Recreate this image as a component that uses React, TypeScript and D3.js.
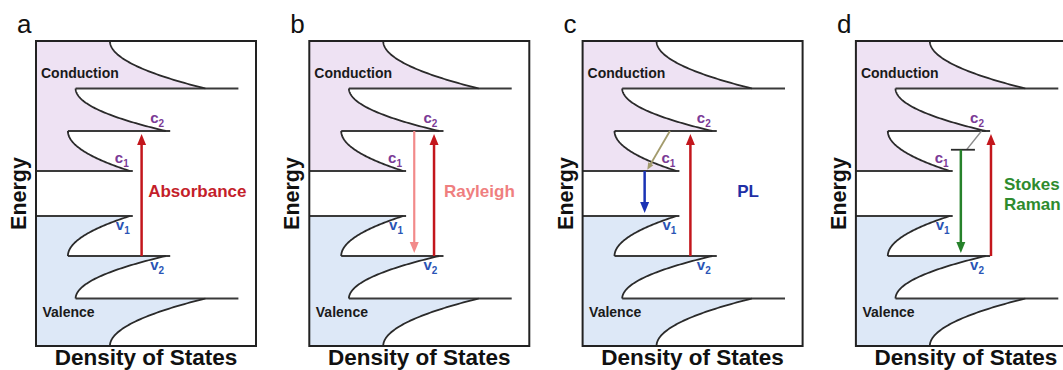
import React from 'react';
import * as d3 from 'd3';

// ---------- data ----------
const panelIds = ['a', 'b', 'c', 'd'];
// subband edge energies above mid-gap (valence mirrored below)
const subbandEdges = [0.45, 1.25, 2.1];
const energyLimit = 3.05;
// density of states at the upper end of each subband curve
const dosAtUpperEdge = [0.145, 0.18, 0.336];
// density of states where each curve meets its band edge
const dosAtBandEdge = [0.427, 0.59, 0.77];
// right end of each level line
const levelLineEnd = [0.44, 0.61, 0.92];

// transitions
const arrowPanel = [0, 1, 1, 2, 2, 3, 3];
const arrowDos = [0.48, 0.567, 0.477, 0.49, 0.282, 0.614, 0.477];
const arrowFrom = [-1.25, -1.25, 1.25, -1.25, 0.45, -1.25, 0.875];
const arrowTo = [1.25, 1.25, -1.25, 1.25, -0.45, 1.25, -1.25];
const arrowColor = ['#c3161c', '#c3161c', '#f28a8a', '#c3161c', '#1b33b5', '#c3161c', '#26822b'];

// relaxation in PL (panel c)
const relaxFrom = [0.397, 1.25];
const relaxTo = [0.294, 0.476];
// virtual state in Raman (panel d)
const virtualLevel = 0.875;
const virtualSpan = [0.432, 0.541];
const virtualLinkFrom = [0.571, 1.25];
const virtualLinkTo = [0.503, 0.875];

const processLabels = [['Absorbance'], ['Rayleigh'], ['PL'], ['Stokes', 'Raman']];
const processColors = ['#c41e2a', '#ef7f7f', '#1f2fa6', '#2e8b2e'];
const processDos = [0.51, 0.612, 0.703, 0.673];

// ---------- layout ----------
const W = 1063, H = 370;
const firstLeft = 36, panelStep = 273.3, boxW = 220;
const boxTop = 41, boxBottom = 346;
const FONT = 'Liberation Sans, Arial, Helvetica, sans-serif';
const condFill = '#eee2f3';
const valFill = '#dde8f7';

const shape = (s: number) => (1 - s) * (1 - s);

function bandCurve(n: number, sign: number): [number, number][] {
  const lo = subbandEdges[n];
  const hi = n + 1 < subbandEdges.length ? subbandEdges[n + 1] : energyLimit;
  const pts: [number, number][] = [];
  const N = 60;
  for (let i = 0; i <= N; i++) {
    const s = 1 - i / N; // from upper edge (s=1) to band edge (s=0)
    const e = lo + s * (hi - lo);
    const dos = dosAtUpperEdge[n] + (dosAtBandEdge[n] - dosAtUpperEdge[n]) * shape(s);
    pts.push([dos, sign * e]);
  }
  return pts;
}

function fillPoints(sign: number): [number, number][] {
  const pts: [number, number][] = [[0, sign * energyLimit]];
  for (let n = subbandEdges.length - 1; n >= 0; n--) {
    pts.push(...bandCurve(n, sign));
  }
  pts.push([0, sign * subbandEdges[0]]);
  return pts;
}

function Arrow({ x1, y1, x2, y2, color, width = 2.5, head = 11, hw = 4.5 }: any) {
  const dx = x2 - x1, dy = y2 - y1;
  const len = Math.hypot(dx, dy);
  const ux = dx / len, uy = dy / len;
  const bx = x2 - ux * head, by = y2 - uy * head;
  const pts = [
    [x2, y2],
    [bx - uy * hw, by + ux * hw],
    [bx + uy * hw, by - ux * hw],
  ];
  return (
    <g>
      <line x1={x1} y1={y1} x2={bx + ux * 1.5} y2={by + uy * 1.5} stroke={color} strokeWidth={width} />
      <polygon points={pts.map((p) => p.join(',')).join(' ')} fill={color} />
    </g>
  );
}

function SubLabel({ x, y, main, sub, color }: any) {
  return (
    <text x={x} y={y} fill={color} fontFamily={FONT} fontWeight="bold" fontSize={15}>
      {main}
      <tspan fontSize={10} dy={4}>{sub}</tspan>
    </text>
  );
}

function Panel({ idx }: { idx: number }) {
  const left = firstLeft + idx * panelStep;
  const x = d3.scaleLinear().domain([0, 1]).range([left, left + boxW]);
  const y = d3.scaleLinear().domain([-energyLimit, energyLimit]).range([boxBottom, boxTop]);
  const line = d3.line<[number, number]>().x((d) => x(d[0])).y((d) => y(d[1]));
  const tipGap = 3;

  const arrows = arrowPanel
    .map((p, i) => ({ p, i }))
    .filter((a) => a.p === idx)
    .map(({ i }) => {
      const up = arrowTo[i] > arrowFrom[i];
      const y1 = y(arrowFrom[i]);
      const y2 = y(arrowTo[i]) + (up ? tipGap : -tipGap);
      return <Arrow key={i} x1={x(arrowDos[i])} y1={y1} x2={x(arrowDos[i])} y2={y2} color={arrowColor[i]} width={arrowColor[i] === '#f28a8a' ? 2.2 : 2.5} />;
    });

  const labelLines = processLabels[idx];
  const labelY0 = labelLines.length === 1 ? 197 : 190;

  return (
    <g>
      {/* fills */}
      <path d={line(fillPoints(1)) + 'Z'} fill={condFill} stroke="none" />
      <path d={line(fillPoints(-1)) + 'Z'} fill={valFill} stroke="none" />
      {/* level lines */}
      {[1, -1].map((sign) =>
        subbandEdges.map((e, n) => (
          <line
            key={`l${sign}${n}`}
            x1={x(n === 0 ? 0 : dosAtUpperEdge[n - 1])}
            x2={x(levelLineEnd[n])}
            y1={y(sign * e)}
            y2={y(sign * e)}
            stroke="#3a3a3a"
            strokeWidth={2}
          />
        ))
      )}
      {/* DOS curves */}
      {[1, -1].map((sign) =>
        subbandEdges.map((_, n) => (
          <path key={`c${sign}${n}`} d={line(bandCurve(n, sign)) || ''} fill="none" stroke="#2a2a2a" strokeWidth={1.8} />
        ))
      )}
      {/* box */}
      <rect x={x(0)} y={boxTop} width={boxW} height={boxBottom - boxTop} fill="none" stroke="#222" strokeWidth={2} />
      {/* region labels */}
      <text x={x(0) + 5} y={78} fontFamily={FONT} fontWeight="bold" fontSize={14} fill="#1a1a1a">Conduction</text>
      <text x={x(0) + 6.5} y={316.5} fontFamily={FONT} fontWeight="bold" fontSize={14} fill="#1a1a1a">Valence</text>
      {/* subband labels */}
      <SubLabel x={x(levelLineEnd[1]) - 20} y={y(subbandEdges[1]) - 8} main="c" sub="2" color="#7b3a96" />
      <SubLabel x={x(levelLineEnd[0]) - 18} y={y(subbandEdges[0]) - 8} main="c" sub="1" color="#7b3a96" />
      <SubLabel x={x(levelLineEnd[0]) - 17} y={y(-subbandEdges[0]) + 14} main="v" sub="1" color="#2a54b5" />
      <SubLabel x={x(levelLineEnd[1]) - 20} y={y(-subbandEdges[1]) + 14} main="v" sub="2" color="#2a54b5" />
      {/* special transitions */}
      {idx === 2 && (
        <Arrow
          x1={x(relaxFrom[0])}
          y1={y(relaxFrom[1])}
          x2={x(relaxTo[0])}
          y2={y(relaxTo[1])}
          color="#a39b6c"
          width={1.8}
          head={7}
          hw={3}
        />
      )}
      {idx === 3 && (
        <g>
          <line x1={x(virtualLinkFrom[0])} y1={y(virtualLinkFrom[1])} x2={x(virtualLinkTo[0])} y2={y(virtualLinkTo[1])} stroke="#8a8a8a" strokeWidth={1.3} />
          <line x1={x(virtualSpan[0])} x2={x(virtualSpan[1])} y1={y(virtualLevel)} y2={y(virtualLevel)} stroke="#2a2a2a" strokeWidth={1.8} />
        </g>
      )}
      {arrows}
      {/* process label */}
      <text x={x(processDos[idx])} y={labelY0} fontFamily={FONT} fontWeight="bold" fontSize={17} fill={processColors[idx]}>
        {labelLines.map((t, i) => (
          <tspan key={i} x={x(processDos[idx])} dy={i === 0 ? 0 : 20}>{t}</tspan>
        ))}
      </text>
      {/* panel letter */}
      <text x={x(0) - 19} y={33} fontFamily={FONT} fontSize={26} fill="#111">{panelIds[idx]}</text>
      {/* axis titles */}
      <text
        transform={`translate(${x(0) - 10},${(boxTop + boxBottom) / 2}) rotate(-90)`}
        textAnchor="middle"
        fontFamily={FONT}
        fontWeight="bold"
        fontSize={21.5}
        fill="#111"
      >
        Energy
      </text>
      <text x={x(0.5)} y={365} textAnchor="middle" fontFamily={FONT} fontWeight="bold" fontSize={22.5} fill="#111">
        Density of States
      </text>
    </g>
  );
}

export default function App() {
  return (
    <svg width={W} height={H} style={{ position: 'absolute', left: 0, top: 0, background: '#fff' }}>
      <rect x={0} y={0} width={W} height={H} fill="#fff" />
      {panelIds.map((_, i) => (
        <Panel key={i} idx={i} />
      ))}
    </svg>
  );
}
